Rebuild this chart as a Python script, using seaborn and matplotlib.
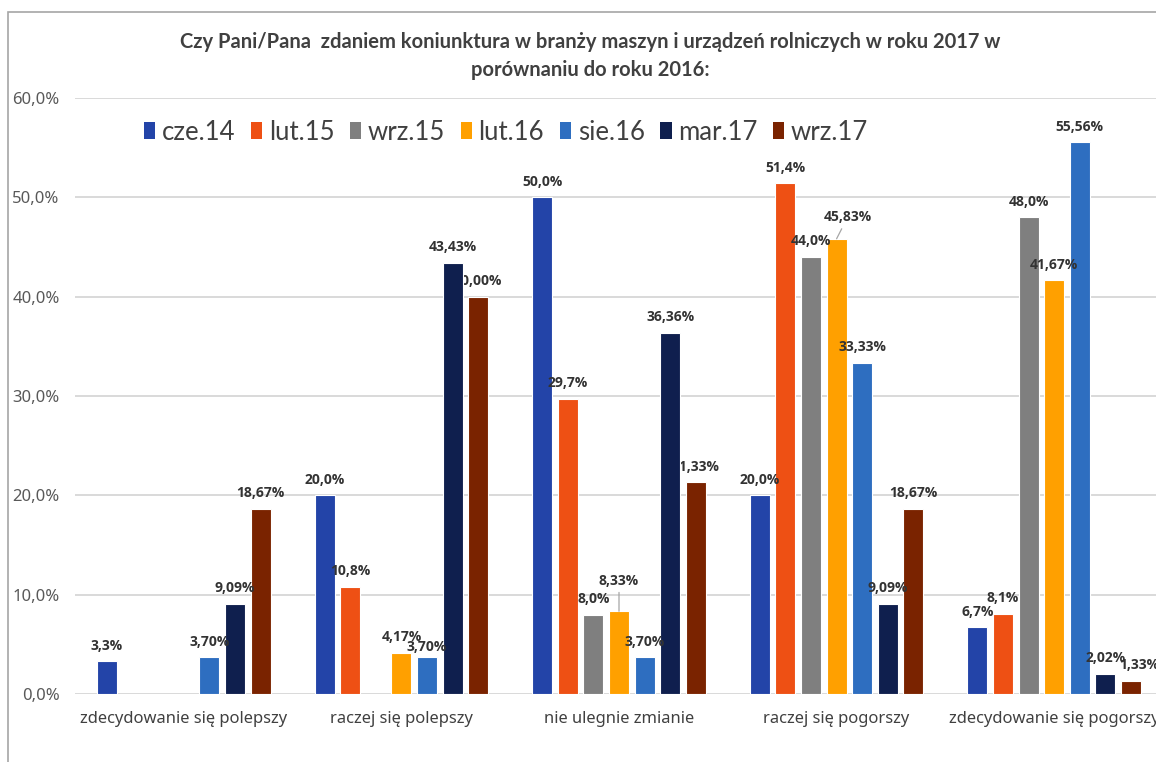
import numpy as np
import pandas as pd
import matplotlib
matplotlib.use("Agg")
import matplotlib.pyplot as plt
from matplotlib.patches import Patch, Rectangle
import seaborn as sns

# categories (x axis) and survey waves (hue)
categories = ["zdecydowanie się polepszy", "raczej się polepszy", "nie ulegnie zmianie",
              "raczej się pogorszy", "zdecydowanie się pogorszy"]
series = ["cze.14", "lut.15", "wrz.15", "lut.16", "sie.16", "mar.17", "wrz.17"]

cze14 = [3.3, 20.0, 50.0, 20.0, 6.7]
lut15 = [np.nan, 10.8, 29.7, 51.4, 8.1]
wrz15 = [np.nan, np.nan, 8.0, 44.0, 48.0]
lut16 = [np.nan, 4.17, 8.33, 45.83, 41.67]
sie16 = [3.70, 3.70, 3.70, 33.33, 55.56]
mar17 = [9.09, 43.43, 36.36, 9.09, 2.02]
wrz17 = [18.67, 40.00, 21.33, 18.67, 1.33]

# number of decimals shown in the data labels of each wave
decimals = [1, 1, 1, 2, 2, 2, 2]

colors = ["#2344A8", "#EE5014", "#7F7F7F", "#FFA000", "#2E6EC0", "#0F1F4E", "#7A2300"]

title = ("Czy Pani/Pana  zdaniem koniunktura w branży maszyn i urządzeń rolniczych w roku 2017 w\n"
         "porównaniu do roku 2016:")

# label tweaks: (dx px, dy px, leader line, drawn behind bars)
nudges = {
    ("nie ulegnie zmianie", "lut.16"): (0, 15, True, False),
    ("raczej się pogorszy", "lut.16"): (11, 6, True, False),
    ("raczej się polepszy", "sie.16"): (0, -5, False, False),
    ("zdecydowanie się pogorszy", "wrz.17"): (8, 0, False, False),
    ("nie ulegnie zmianie", "wrz.17"): (0, 0, False, True),
    ("raczej się polepszy", "wrz.17"): (0, 0, False, True),
}

TXT = "#404040"
SANS = ["Noto Sans", "DejaVu Sans"]
LBL = ["Open Sans", "DejaVu Sans"]
CALI = ["Lato", "DejaVu Sans"]


def pl(v, d):
    return f"{v:.{d}f}%".replace(".", ",")


def main():
    sns.set_theme(style="white")
    plt.rcParams["font.family"] = SANS

    values = [cze14, lut15, wrz15, lut16, sie16, mar17, wrz17]
    rows = []
    for s, vals in zip(series, values):
        for c, v in zip(categories, vals):
            rows.append({"kategoria": c, "okres": s, "wartosc": v})
    df = pd.DataFrame(rows).dropna()

    fig = plt.figure(figsize=(11.56, 7.62), dpi=100)
    ax = fig.add_axes([75 / 1156, 1 - 694 / 762, (1163 - 75) / 1156, (694 - 98) / 762])

    sns.barplot(data=df, x="kategoria", y="wartosc", hue="okres",
                order=categories, hue_order=series, palette=colors, saturation=1,
                width=0.824, gap=0.22, edgecolor="white", linewidth=0.8,
                errorbar=None, legend=False, ax=ax, zorder=2)

    ax.set_ylim(0, 60)
    ax.set_xlim(-0.5, 4.5)
    ticks = np.arange(0, 61, 10)
    ax.set_yticks(ticks)
    ax.set_yticklabels([pl(t, 1) for t in ticks])
    ax.yaxis.grid(True, color="#D9D9D9", lw=1.4)
    ax.set_axisbelow(True)
    for sp in ax.spines.values():
        sp.set_visible(False)
    ax.tick_params(axis="y", length=0, pad=11, labelsize=12, labelcolor="#595959")
    ax.tick_params(axis="x", length=0, pad=12, labelsize=11.9, labelcolor=TXT)
    ax.set_xlabel("")
    ax.set_ylabel("")

    # data labels
    for si, cont in enumerate(ax.containers):
        for bar in cont:
            h = bar.get_height()
            if not np.isfinite(h):
                continue
            xc = bar.get_x() + bar.get_width() / 2
            cat = categories[int(round(xc))]
            dx, dy, leader, behind = nudges.get((cat, series[si]), (0, 0, False, False))
            kw = {}
            if leader:
                kw["arrowprops"] = dict(arrowstyle="-", color="#A6A6A6", lw=0.9,
                                        shrinkA=1, shrinkB=0)
            ax.annotate(pl(h, decimals[si]), xy=(xc, h), xytext=(dx, 15.5 + dy),
                        textcoords="offset pixels", ha="center", va="center",
                        fontsize=10, fontweight="bold", color="#333333", family=LBL,
                        zorder=1.5 if behind else 3, **kw)

    handles = [Patch(facecolor=c, edgecolor="none") for c in colors]
    fig.legend(handles, series, loc="center", bbox_to_anchor=(506 / 1156, 1 - 132 / 762),
               ncol=7, frameon=False, handlelength=0.45, handleheight=0.6,
               handletextpad=0.25, columnspacing=0.6, labelcolor=TXT,
               prop={"family": CALI, "size": 18.5})

    fig.text(590 / 1156, 1 - 56 / 762, title, ha="center", va="center",
             fontsize=14.5, fontweight="bold", color=TXT, linespacing=1.55,
             family=CALI)

    # outer chart frame
    fig.add_artist(Rectangle((8 / 1156, -0.1), 1.2, 1 - 12 / 762 + 0.1,
                             transform=fig.transFigure, fill=False,
                             edgecolor="#A6A6A6", lw=1.2))

    fig.savefig("out.png", dpi=100)


if __name__ == "__main__":
    main()
